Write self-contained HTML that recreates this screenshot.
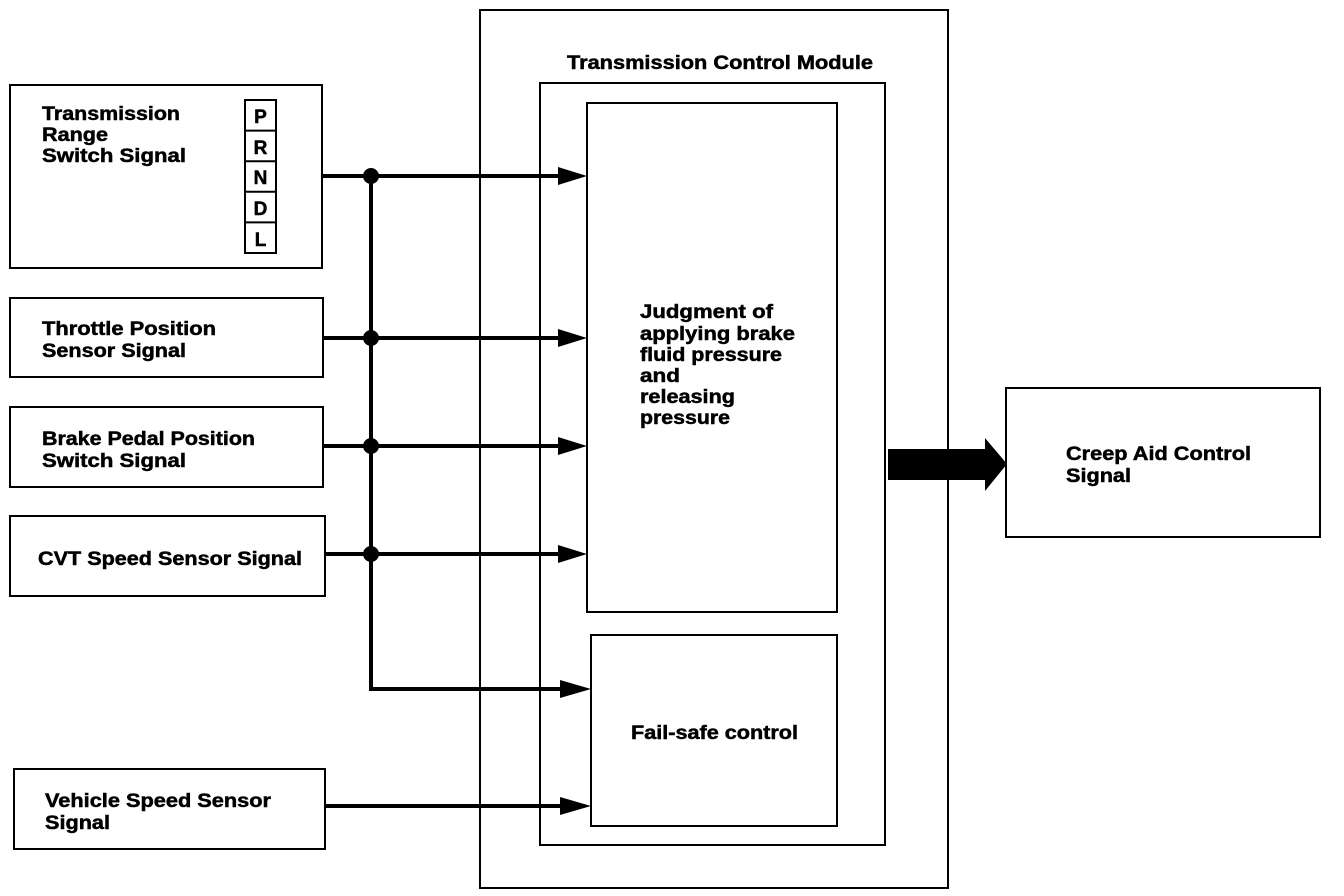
<!DOCTYPE html>
<html><head><meta charset="utf-8"><style>html,body{margin:0;padding:0;background:#fff}svg{display:block}text{font-family:"Liberation Sans",Arial,sans-serif;font-weight:bold;font-size:19px;fill:#000;stroke:#000;stroke-width:0.5}</style></head>
<body>
<svg width="1344" height="896" viewBox="0 0 1344 896" xmlns="http://www.w3.org/2000/svg">
<g fill="none" stroke="#000" stroke-width="2">
<rect x="480" y="10" width="468" height="878"/>
<rect x="540" y="83" width="345" height="762"/>
<rect x="587" y="103" width="250" height="509"/>
<rect x="591" y="635" width="246" height="191"/>
<rect x="10" y="85" width="312" height="183"/>
<rect x="10" y="298" width="313" height="79"/>
<rect x="10" y="407" width="313" height="80"/>
<rect x="10" y="516" width="315" height="80"/>
<rect x="14" y="769" width="311" height="80"/>
<rect x="1006" y="388" width="314" height="149"/>
<rect x="245" y="100" width="31" height="153"/>
<line x1="245" y1="130.6" x2="276" y2="130.6"/>
<line x1="245" y1="161.2" x2="276" y2="161.2"/>
<line x1="245" y1="191.8" x2="276" y2="191.8"/>
<line x1="245" y1="222.4" x2="276" y2="222.4"/>
</g>
<g stroke="#000" stroke-width="4" fill="none">
<line x1="322" y1="176" x2="565" y2="176"/>
<line x1="323" y1="338" x2="565" y2="338"/>
<line x1="323" y1="446" x2="565" y2="446"/>
<line x1="325" y1="554" x2="565" y2="554"/>
<polyline points="371,176 371,689 565,689"/>
<line x1="325" y1="806" x2="565" y2="806"/>
</g>
<g fill="#000">
<circle cx="371" cy="176" r="8"/><circle cx="371" cy="338" r="8"/><circle cx="371" cy="446" r="8"/><circle cx="371" cy="554" r="8"/>
<polygon points="558,167 587,176 558,185"/>
<polygon points="558,329 587,338 558,347"/>
<polygon points="558,437 587,446 558,455"/>
<polygon points="558,545 587,554 558,563"/>
<polygon points="560,680 591,689 560,698"/>
<polygon points="560,797 591,806 560,815"/>
<polygon points="888,449 985,449 985,438 1007,464 985,491 985,480 888,480"/>
</g>
<g>
<text x="567" y="69" textLength="306" lengthAdjust="spacingAndGlyphs">Transmission Control Module</text>
<text x="42" y="120" textLength="138" lengthAdjust="spacingAndGlyphs">Transmission</text>
<text x="42" y="141" textLength="66" lengthAdjust="spacingAndGlyphs">Range</text>
<text x="42" y="162" textLength="144" lengthAdjust="spacingAndGlyphs">Switch Signal</text>
<text x="42" y="335" textLength="174" lengthAdjust="spacingAndGlyphs">Throttle Position</text>
<text x="42" y="357" textLength="144" lengthAdjust="spacingAndGlyphs">Sensor Signal</text>
<text x="42" y="445" textLength="213" lengthAdjust="spacingAndGlyphs">Brake Pedal Position</text>
<text x="42" y="467" textLength="144" lengthAdjust="spacingAndGlyphs">Switch Signal</text>
<text x="38" y="565" textLength="264" lengthAdjust="spacingAndGlyphs">CVT Speed Sensor Signal</text>
<text x="45" y="807" textLength="226" lengthAdjust="spacingAndGlyphs">Vehicle Speed Sensor</text>
<text x="45" y="829" textLength="65" lengthAdjust="spacingAndGlyphs">Signal</text>
<text x="640" y="318" textLength="133" lengthAdjust="spacingAndGlyphs">Judgment of</text>
<text x="640" y="340" textLength="155" lengthAdjust="spacingAndGlyphs">applying brake</text>
<text x="640" y="361" textLength="142" lengthAdjust="spacingAndGlyphs">fluid pressure</text>
<text x="640" y="382" textLength="40" lengthAdjust="spacingAndGlyphs">and</text>
<text x="640" y="403" textLength="95" lengthAdjust="spacingAndGlyphs">releasing</text>
<text x="640" y="424" textLength="90" lengthAdjust="spacingAndGlyphs">pressure</text>
<text x="631" y="739" textLength="167" lengthAdjust="spacingAndGlyphs">Fail-safe control</text>
<text x="1066" y="460" textLength="185" lengthAdjust="spacingAndGlyphs">Creep Aid Control</text>
<text x="1066" y="482" textLength="65" lengthAdjust="spacingAndGlyphs">Signal</text>
</g>
<g text-anchor="middle" style="font-size:20px">
<text x="260.5" y="123">P</text><text x="260.5" y="154">R</text><text x="260.5" y="184">N</text><text x="260.5" y="215">D</text><text x="260.5" y="246">L</text>
</g>
</svg>
</body></html>
